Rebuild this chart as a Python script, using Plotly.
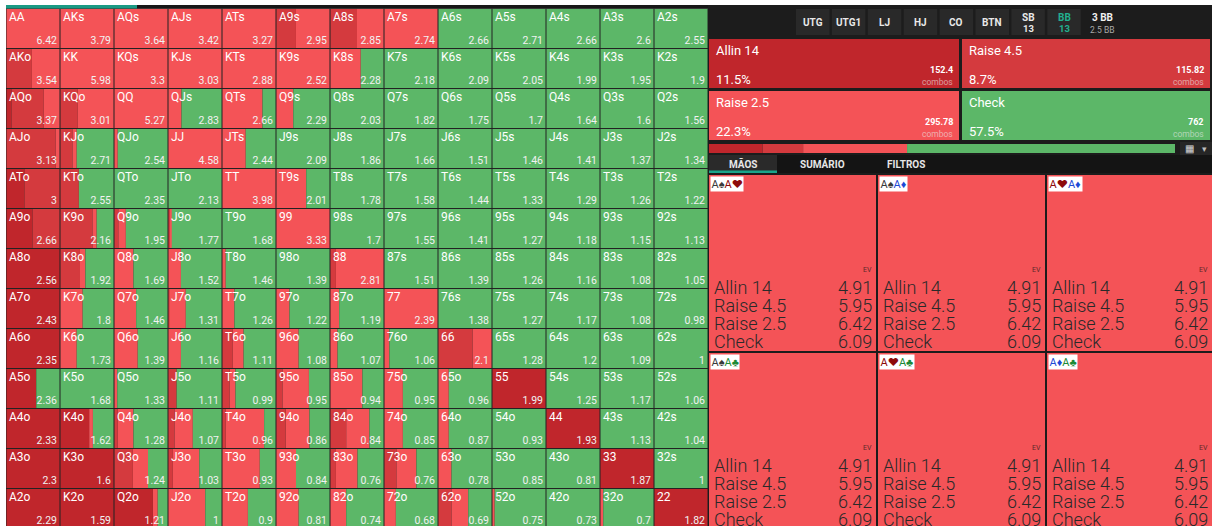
import plotly.graph_objects as go

W, H = 1212, 526
FONT = "Roboto, Inter, sans-serif"

RANKS = list("AKQJT98765432")

ACTION_NAMES = ["Allin 14", "Raise 4.5", "Raise 2.5", "Check"]
ACTION_COLORS = ["#c0262c", "#d43a3e", "#f45357", "#5cb768"]
ACTION_PCT = [11.5, 8.7, 22.3, 57.5]
ACTION_COMBOS = [152.4, 115.82, 295.78, 762]

ALLIN = [
    [0, 0, 0, 0, 0, 0, 0, 0, 0, 0, 0, 0, 0],
    [0, 0, 0, 0, 0, 0, 0, 0, 0, 0, 0, 0, 0],
    [0.1, 0, 0, 0, 0, 0, 0, 0, 0, 0, 0, 0, 0],
    [0, 0, 0, 0, 0, 0, 0, 0, 0, 0, 0, 0, 0],
    [0.34, 0, 0, 0, 0, 0, 0, 0, 0, 0, 0, 0, 0],
    [0.49, 0, 0, 0, 0, 0, 0, 0, 0, 0, 0, 0, 0],
    [1, 0, 0, 0, 0, 0, 0, 0, 0, 0, 0, 0, 0],
    [1, 0, 0, 0, 0, 0, 0, 0, 0, 0, 0, 0, 0],
    [1, 0, 0, 0, 0, 0, 0, 0, 0, 0, 0, 0, 0],
    [0.56, 0, 0, 0, 0, 0, 0, 0, 0, 1, 0, 0, 0],
    [1, 0.54, 0, 0, 0, 0, 0, 0, 0, 0, 1, 0, 0],
    [1, 1, 0, 0, 0, 0, 0, 0, 0, 0, 0, 1, 0],
    [1, 1, 0.72, 0, 0, 0, 0, 0, 0, 0, 0, 0, 1],
]

RAISE45 = [
    [0, 0, 0, 0, 0, 0.37, 0.5, 0, 0, 0, 0, 0, 0],
    [0.48, 0, 0, 0, 0, 0, 0, 0, 0, 0, 0, 0, 0],
    [0.6, 0.33, 0, 0, 0, 0, 0, 0, 0, 0, 0, 0, 0],
    [0.92, 0.23, 0, 0, 0, 0, 0, 0, 0, 0, 0, 0, 0],
    [0.66, 0.35, 0, 0, 0, 0, 0, 0, 0, 0, 0, 0, 0],
    [0.51, 0.6, 0.08, 0.04, 0, 0, 0, 0, 0, 0, 0, 0, 0],
    [0, 0.37, 0, 0, 0, 0, 0.11, 0, 0, 0, 0, 0, 0],
    [0, 0, 0, 0.03, 0, 0, 0, 0, 0, 0, 0, 0, 0],
    [0, 0, 0, 0, 0.2, 0, 0, 0, 0.64, 0, 0, 0, 0],
    [0, 0, 0, 0.16, 0.14, 0.12, 0, 0, 0, 0, 0, 0, 0],
    [0, 0, 0.07, 0.12, 0.07, 0.18, 0.3, 0, 0, 0, 0, 0, 0],
    [0, 0, 0.35, 0.09, 0, 0, 0.11, 0.23, 0, 0, 0, 0, 0],
    [0, 0, 0, 0, 0, 0, 0, 0, 0.25, 0, 0, 0, 0],
]

RAISE25 = [
    [1, 1, 1, 1, 1, 0.63, 0.5, 1, 0, 0, 0, 0, 0],
    [0.52, 1, 1, 1, 1, 1, 0.57, 0, 0, 0, 0, 0, 0],
    [0.3, 0.67, 1, 0.25, 0.75, 0.32, 0, 0, 0, 0, 0, 0, 0],
    [0.08, 0.08, 0.07, 1, 0.44, 0, 0, 0, 0, 0, 0, 0, 0],
    [0, 0, 0, 0, 1, 0.56, 0, 0, 0, 0, 0, 0, 0],
    [0, 0.08, 0.14, 0.03, 0, 1, 0, 0, 0, 0, 0, 0, 0],
    [0, 0.1, 0.36, 0.24, 0.07, 0, 0.89, 0, 0, 0, 0, 0, 0],
    [0, 0.42, 0.41, 0.3, 0.23, 0.25, 0.17, 1, 0, 0, 0, 0, 0],
    [0, 0.31, 0.44, 0.24, 0.2, 0.42, 0.14, 0.1, 0.36, 0, 0, 0, 0],
    [0, 0, 0.06, 0, 0.11, 0.49, 0.6, 0.35, 0.2, 0, 0, 0, 0],
    [0, 0.07, 0.29, 0.34, 0.71, 0.44, 0.43, 0.35, 0.2, 0, 0, 0, 0],
    [0, 0, 0.28, 0.49, 0.7, 0.37, 0.4, 0.37, 0.25, 0, 0, 0, 0],
    [0, 0, 0.09, 0.69, 0.48, 0.42, 0.3, 0.22, 0.31, 0.05, 0, 0.06, 0],
]

EV = [
    [6.42, 3.79, 3.64, 3.42, 3.27, 2.95, 2.85, 2.74, 2.66, 2.71, 2.66, 2.6, 2.55],
    [3.54, 5.98, 3.3, 3.03, 2.88, 2.52, 2.28, 2.18, 2.09, 2.05, 1.99, 1.95, 1.9],
    [3.37, 3.01, 5.27, 2.83, 2.66, 2.29, 2.03, 1.82, 1.75, 1.7, 1.64, 1.6, 1.56],
    [3.13, 2.71, 2.54, 4.58, 2.44, 2.09, 1.86, 1.66, 1.51, 1.46, 1.41, 1.37, 1.34],
    [3, 2.55, 2.35, 2.13, 3.98, 2.01, 1.78, 1.58, 1.44, 1.33, 1.29, 1.26, 1.22],
    [2.66, 2.16, 1.95, 1.77, 1.68, 3.33, 1.7, 1.55, 1.41, 1.27, 1.18, 1.15, 1.13],
    [2.56, 1.92, 1.69, 1.52, 1.46, 1.39, 2.81, 1.51, 1.39, 1.26, 1.16, 1.08, 1.05],
    [2.43, 1.8, 1.46, 1.31, 1.26, 1.22, 1.19, 2.39, 1.38, 1.27, 1.17, 1.08, 0.98],
    [2.35, 1.73, 1.39, 1.16, 1.11, 1.08, 1.07, 1.06, 2.1, 1.28, 1.2, 1.09, 1],
    [2.36, 1.68, 1.33, 1.11, 0.99, 0.95, 0.94, 0.95, 0.96, 1.99, 1.25, 1.17, 1.06],
    [2.33, 1.62, 1.28, 1.07, 0.96, 0.86, 0.84, 0.85, 0.87, 0.93, 1.93, 1.13, 1.04],
    [2.3, 1.6, 1.24, 1.03, 0.93, 0.84, 0.76, 0.76, 0.78, 0.85, 0.81, 1.87, 1],
    [2.29, 1.59, 1.21, 1, 0.9, 0.81, 0.74, 0.68, 0.69, 0.75, 0.73, 0.7, 1.82],
]

POSITIONS = ["UTG", "UTG1", "LJ", "HJ", "CO", "BTN", "SB", "BB"]
POSITION_STACKS = ["", "", "", "", "", "", "13", "13"]
TABS = ["MÃOS", "SUMÁRIO", "FILTROS"]

CARD_COMBOS = [("A♠", "A♥"), ("A♠", "A♦"), ("A♥", "A♦"),
               ("A♠", "A♣"), ("A♥", "A♣"), ("A♦", "A♣")]
CARD_FREQ = [0, 0, 1, 0]          # AA: pure Raise 2.5
CARD_EV = [4.91, 5.95, 6.42, 6.09]
SUIT_COLORS = {"♠": "#3a3a3a", "♥": "#8e0a0a", "♦": "#1d49d6", "♣": "#1c8a35"}


def hand_label(r, c):
    if r == c:
        return RANKS[r] + RANKS[c]
    if c > r:
        return RANKS[r] + RANKS[c] + "s"
    return RANKS[c] + RANKS[r] + "o"


fig = go.Figure()

# ---------------- range grid (axes x / y) ----------------
segs = [dict(x=[], y=[], base=[]) for _ in range(4)]
for r in range(13):
    for c in range(13):
        a, b, d = ALLIN[r][c], RAISE45[r][c], RAISE25[r][c]
        fr = [a, b, d, max(0.0, 1 - a - b - d)]
        base = c
        for k in range(4):
            if fr[k] > 0.001:
                segs[k]["x"].append(fr[k])
                segs[k]["y"].append(r + 0.5)
                segs[k]["base"].append(base)
            base += fr[k]

for k in range(4):
    fig.add_trace(go.Bar(
        orientation="h", x=segs[k]["x"], y=segs[k]["y"], base=segs[k]["base"],
        width=1, marker=dict(color=ACTION_COLORS[k], line=dict(width=0)),
        xaxis="x", yaxis="y", hoverinfo="skip", showlegend=False))

gx, gy = [], []
for k in range(14):
    gx += [k, k, None]
    gy += [0, 13, None]
    gx += [0, 13, None]
    gy += [k, k, None]
fig.add_trace(go.Scatter(x=gx, y=gy, mode="lines", line=dict(color="#232323", width=1),
                         xaxis="x", yaxis="y", hoverinfo="skip", showlegend=False))

lx, ly, lt, ex, ey, et = [], [], [], [], [], []
for r in range(13):
    for c in range(13):
        lx.append(c + 3 / 54)
        ly.append(r + 9.5 / 40)
        lt.append(hand_label(r, c))
        ex.append(c + 1 - 3 / 54)
        ey.append(r + 32.5 / 40)
        et.append(f"{EV[r][c]:g}")
fig.add_trace(go.Scatter(x=lx, y=ly, text=lt, mode="text", textposition="middle right",
                         textfont=dict(family=FONT, size=12, color="#ffffff"),
                         xaxis="x", yaxis="y", hoverinfo="skip", showlegend=False))
fig.add_trace(go.Scatter(x=ex, y=ey, text=et, mode="text", textposition="middle left",
                         textfont=dict(family=FONT, size=10.5, color="#f2f2f2"),
                         xaxis="x", yaxis="y", hoverinfo="skip", showlegend=False))

# ---------------- right panel (axes x2 / y2, pixel units) ----------------
shapes = []
annotations = []


def ann(x, y, text, size, color, xanchor="left", yanchor="middle", weight=None, **kw):
    f = dict(family=FONT, size=size, color=color)
    if weight:
        f["weight"] = weight
    annotations.append(dict(x=x, y=y, xref="x2", yref="y2", text=text, showarrow=False,
                            xanchor=xanchor, yanchor=yanchor, font=f, **kw))


def rect(x0, y0, x1, y1, color, ref="x2"):
    shapes.append(dict(type="rect", xref=ref, yref=ref.replace("x", "y"), x0=x0, y0=y0,
                       x1=x1, y1=y1, fillcolor=color, line=dict(width=0), layer="below"))


# top strip above the grid
shapes.append(dict(type="rect", xref="paper", yref="paper", x0=6 / W, x1=708 / W,
                   y0=1 - 8.5 / H, y1=1 - 5 / H, fillcolor="#171717", line=dict(width=0)))
shapes.append(dict(type="rect", xref="paper", yref="paper", x0=6 / W, x1=137 / W,
                   y0=1 - 8.5 / H, y1=1 - 5 / H, fillcolor="#1a9a84", line=dict(width=0)))

# position buttons
for i, p in enumerate(POSITIONS):
    x0 = 796 + i * 35.9
    rect(x0, 9, x0 + 33.5, 35, "#292929")
    col = "#22b08f" if p == "BB" else "#e8e8e8"
    if POSITION_STACKS[i]:
        ann(x0 + 16.75, 17, f"<b>{p}</b>", 10, col, xanchor="center")
        ann(x0 + 16.75, 28.5, f"<b>{POSITION_STACKS[i]}</b>", 9.5, col, xanchor="center")
    else:
        ann(x0 + 16.75, 22.5, f"<b>{p}</b>", 10, col, xanchor="center")
ann(1102, 17, "<b>3 BB</b>", 10, "#f0f0f0", xanchor="center")
ann(1102, 30, "2.5 BB", 8.5, "#a8a8a8", xanchor="center")

# action summary boxes
for i, name in enumerate(ACTION_NAMES):
    cx, ry = i % 2, i // 2
    x0 = [709, 962][cx]
    x1 = [959, 1210][cx]
    y0 = 39 + ry * 52
    shapes.append(dict(type="rect", xref="x2", yref="y2", x0=x0, y0=y0, x1=x1, y1=y0 + 49,
                       fillcolor=ACTION_COLORS[i], line=dict(width=0), layer="below"))
    ann(x0 + 5, y0 + 11, name, 13, "#ffffff")
    ann(x0 + 5, y0 + 40.5, f"{ACTION_PCT[i]:g}%", 13, "#ffffff")
    ann(x1 - 4, y0 + 31, f"<b>{ACTION_COMBOS[i]:g}</b>", 9, "#ffffff", xanchor="right")
    ann(x1 - 4, y0 + 42.5, "combos", 8.5, "rgba(235,235,235,0.6)", xanchor="right")

# frequency progress bar
cum = 0.0
for k in range(4):
    fig.add_trace(go.Bar(
        orientation="h", x=[466 * ACTION_PCT[k] / 100], y=[148.5], base=[709 + 466 * cum / 100],
        width=9, marker=dict(color=ACTION_COLORS[k], line=dict(width=0)),
        xaxis="x2", yaxis="y2", hoverinfo="skip", showlegend=False))
    cum += ACTION_PCT[k]
rect(1180, 142, 1212, 155, "#262626")
ann(1189, 148.5, "▦", 10, "#d8d8d8", xanchor="center")
ann(1204, 148.5, "▾", 9, "#bdbdbd", xanchor="center")

# tabs
rect(709, 155, 1212, 173, "#141414")
rect(709, 155, 777, 173, "#2a2a2a")
rect(709, 170.5, 777, 173, "#1aa58a")
for x, t in zip([743, 822, 906], TABS):
    ann(x, 164, f"<b>{t}</b>", 10, "#e6e6e6", xanchor="center")

# combo cards
for j, (c1, c2) in enumerate(CARD_COMBOS):
    cc, cr = j % 3, j // 3
    left = 709 + cc * 169
    top = 175 + cr * 178
    wid = 167
    cum = 0.0
    for k in range(4):
        if CARD_FREQ[k] > 0:
            fig.add_trace(go.Bar(
                orientation="h", x=[wid * CARD_FREQ[k]], y=[top + 88], base=[left + wid * cum],
                width=176, marker=dict(color=ACTION_COLORS[k], line=dict(width=0)),
                xaxis="x2", yaxis="y2", hoverinfo="skip", showlegend=False))
        cum += CARD_FREQ[k]
    lbl = "".join(f"<span style='color:{SUIT_COLORS[s[1]]}'>{s}</span>" for s in (c1, c2))
    ann(left + 0.5, top + 0.5, lbl, 11, "#333333", yanchor="top", bgcolor="#ffffff", borderpad=0.5)
    right = min(left + 165, 1210)
    ann(right, top + 95, "EV", 7, "#5a2a2a", xanchor="right")
    for i, name in enumerate(ACTION_NAMES):
        yy = top + 112 + i * 18.3
        ann(left + 3, yy, name, 18, "#2a2a2a", weight=300)
        ann(right, yy, f"{CARD_EV[i]:.2f}", 18, "#2a2a2a", xanchor="right", weight=300)

fig.update_layout(
    width=W, height=H, margin=dict(l=0, r=0, t=0, b=0),
    paper_bgcolor="#ffffff", plot_bgcolor="#1c1c1c",
    barmode="overlay", showlegend=False,
    xaxis=dict(domain=[6 / W, 708 / W], range=[0, 13], visible=False, fixedrange=True),
    yaxis=dict(domain=[0, 1 - 8.5 / H], range=[517.5 / 40, 0], visible=False, fixedrange=True),
    xaxis2=dict(domain=[708 / W, 1], range=[708, 1212], visible=False, fixedrange=True,
                anchor="y2"),
    yaxis2=dict(domain=[0, 1 - 5 / H], range=[526, 5], visible=False, fixedrange=True,
                anchor="x2"),
    shapes=shapes, annotations=annotations,
)

fig.write_html("out.html", config={"displayModeBar": False},
               post_script="document.body.style.margin='0';document.body.style.overflow='hidden';")
